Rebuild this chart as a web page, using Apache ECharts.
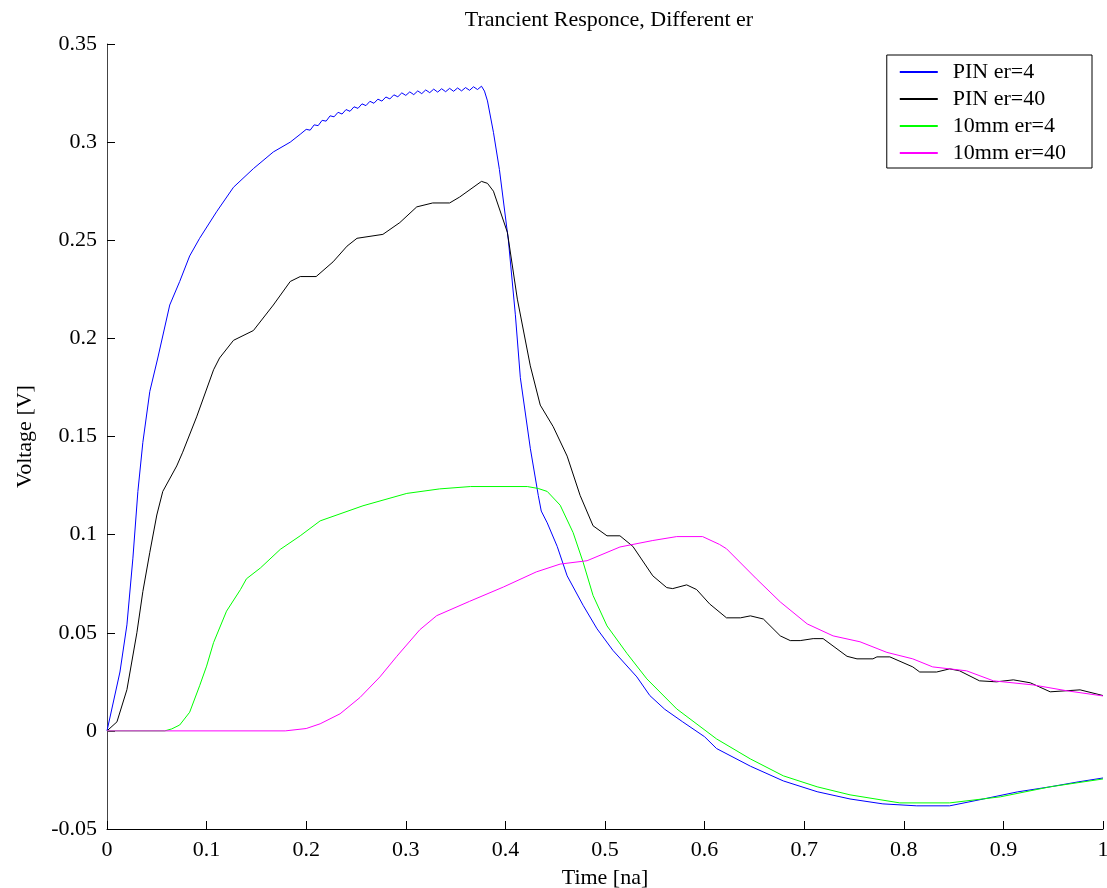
<!DOCTYPE html>
<html>
<head>
<meta charset="utf-8">
<script src="https://cdn.jsdelivr.net/npm/echarts@6/dist/echarts.min.js"></script>
<style>
  html, body { margin: 0; padding: 0; background: #fff; }
  #chart { width: 1107px; height: 888px; }
</style>
</head>
<body>
<div id="chart"></div>
<script>
// data: time [na] and voltage [V]
var pinEr4Time = [0, 0.013, 0.02, 0.026, 0.031, 0.036, 0.043, 0.051, 0.063, 0.073, 0.083, 0.093, 0.11, 0.127, 0.147, 0.167, 0.184, 0.194,
    0.200, 0.204, 0.208, 0.212, 0.216, 0.220, 0.224, 0.228, 0.232, 0.236, 0.240, 0.244, 0.248, 0.252, 0.256, 0.260,
    0.264, 0.268, 0.272, 0.276, 0.280, 0.284, 0.288, 0.292, 0.296, 0.300, 0.304, 0.308, 0.312, 0.316, 0.320, 0.324,
    0.328, 0.332, 0.336, 0.340, 0.344, 0.348, 0.352, 0.356, 0.360, 0.364, 0.368, 0.372, 0.376,
    0.379, 0.382, 0.388, 0.394, 0.403, 0.41, 0.415, 0.425, 0.433, 0.436, 0.442, 0.452, 0.462, 0.478, 0.492, 0.508,
    0.532, 0.545, 0.56, 0.578, 0.6, 0.612, 0.646, 0.679, 0.713, 0.746, 0.779, 0.813, 0.846, 0.88, 0.914, 0.947, 0.975, 1.0];
var pinEr4Volt = [0, 0.03, 0.054, 0.088, 0.122, 0.147, 0.173, 0.19, 0.217, 0.229, 0.242, 0.251, 0.2645, 0.277, 0.2865, 0.295, 0.3, 0.304,
    0.3065, 0.3061, 0.3088, 0.3084, 0.3111, 0.3107, 0.3134, 0.3129, 0.3152, 0.3143, 0.3166, 0.3157, 0.3180, 0.3172, 0.3195, 0.3186,
    0.3208, 0.3198, 0.3219, 0.3209, 0.3230, 0.3220, 0.3241, 0.3231, 0.3251, 0.3238, 0.3256, 0.3242, 0.3261, 0.3247, 0.3266, 0.3252,
    0.3270, 0.3255, 0.3272, 0.3257, 0.3274, 0.3259, 0.3276, 0.3261, 0.3278, 0.3264, 0.3282, 0.3268, 0.3285,
    0.326, 0.321, 0.305, 0.286, 0.25, 0.212, 0.18, 0.144, 0.12, 0.112, 0.106, 0.094, 0.079, 0.064, 0.052, 0.041,
    0.0275, 0.018, 0.011, 0.0046, -0.003, -0.009, -0.018, -0.0255, -0.031, -0.0347, -0.0372, -0.0382, -0.0382, -0.0347, -0.0311, -0.0285, -0.026, -0.024];

var pinEr40Time = [0, 0.01, 0.02, 0.03, 0.036, 0.043, 0.05, 0.056, 0.07, 0.076, 0.09, 0.107, 0.113, 0.127, 0.147, 0.167, 0.184, 0.194, 0.21,
    0.227, 0.241, 0.251, 0.277, 0.294, 0.311, 0.327, 0.344, 0.354, 0.376, 0.382, 0.388, 0.402, 0.412, 0.425, 0.435, 0.448, 0.462,
    0.475, 0.488, 0.502, 0.515, 0.528, 0.548, 0.562, 0.568, 0.582, 0.592, 0.605, 0.622, 0.636, 0.646, 0.659, 0.676, 0.686, 0.696,
    0.709, 0.719, 0.743, 0.753, 0.769, 0.773, 0.786, 0.809, 0.816, 0.833, 0.846, 0.856, 0.876, 0.893, 0.91, 0.927, 0.947, 0.977, 1.0];
var pinEr40Volt = [0, 0.0046, 0.021, 0.05, 0.071, 0.091, 0.11, 0.122, 0.135, 0.142, 0.16, 0.184, 0.19, 0.199, 0.204, 0.217, 0.229, 0.2315, 0.2315,
    0.239, 0.247, 0.251, 0.253, 0.259, 0.267, 0.269, 0.269, 0.272, 0.28, 0.279, 0.275, 0.254, 0.22, 0.186, 0.166, 0.155, 0.14,
    0.12, 0.1045, 0.0994, 0.0994, 0.094, 0.079, 0.073, 0.0725, 0.0744, 0.072, 0.0647, 0.0576, 0.0576, 0.0586, 0.057, 0.0484, 0.046, 0.046,
    0.047, 0.047, 0.038, 0.0367, 0.0367, 0.0377, 0.0377, 0.0326, 0.03, 0.03, 0.0316, 0.0306, 0.0255, 0.025, 0.026, 0.0245, 0.0199, 0.0209, 0.018];

var mm10Er4Time = [0, 0.058, 0.065, 0.073, 0.083, 0.093, 0.1, 0.107, 0.12, 0.134, 0.14, 0.154, 0.174, 0.194, 0.214, 0.257, 0.301, 0.334,
    0.365, 0.422, 0.433, 0.442, 0.455, 0.468, 0.478, 0.488, 0.502, 0.522, 0.542, 0.572, 0.612, 0.646, 0.679, 0.713, 0.746, 0.796,
    0.846, 0.897, 0.947, 1.0];
var mm10Er4Volt = [0, 0, 0.001, 0.003, 0.0095, 0.023, 0.033, 0.045, 0.061, 0.072, 0.0775, 0.083, 0.0925, 0.0994, 0.107, 0.1147, 0.121, 0.1233,
    0.1245, 0.1245, 0.1235, 0.122, 0.115, 0.101, 0.086, 0.069, 0.0535, 0.0395, 0.0265, 0.0112, -0.0041, -0.0143, -0.0229, -0.0285, -0.0326, -0.0367,
    -0.0367, -0.0336, -0.0285, -0.0245];

var mm10Er40Time = [0, 0.179, 0.18, 0.2, 0.214, 0.234, 0.254, 0.274, 0.291, 0.314, 0.331, 0.364, 0.398, 0.431, 0.455, 0.482, 0.515, 0.548,
    0.572, 0.598, 0.615, 0.622, 0.652, 0.676, 0.703, 0.729, 0.756, 0.783, 0.809, 0.829, 0.863, 0.89, 0.93, 0.964, 1.0];
var mm10Er40Volt = [0, 0, 0.001, 0.0012, 0.0036, 0.0087, 0.017, 0.0275, 0.038, 0.0515, 0.0587, 0.066, 0.0733, 0.081, 0.085, 0.0867, 0.0937, 0.097,
    0.099, 0.099, 0.095, 0.0928, 0.0775, 0.0657, 0.0545, 0.0484, 0.0454, 0.04, 0.0367, 0.0326, 0.0306, 0.0255, 0.0234, 0.0204, 0.0178];

var seriesNames = ['PIN er=4', 'PIN er=40', '10mm er=4', '10mm er=40'];
var seriesColors = ['#0000ff', '#000000', '#00ff00', '#ff00ff'];

function pairs(t, v) {
    var out = [];
    for (var i = 0; i < t.length; i++) {
        out.push([t[i], v[i]]);
    }
    return out;
}

var allData = [
    pairs(pinEr4Time, pinEr4Volt),
    pairs(pinEr40Time, pinEr40Volt),
    pairs(mm10Er4Time, mm10Er4Volt),
    pairs(mm10Er40Time, mm10Er40Volt)
];

var font = 'Liberation Serif';
var series = [];
for (var i = 0; i < seriesNames.length; i++) {
    series.push({
        name: seriesNames[i],
        type: 'line',
        symbol: 'none',
        smooth: false,
        color: seriesColors[i],
        lineStyle: { width: 1, color: seriesColors[i] },
        data: allData[i]
    });
}

var chart = echarts.init(document.getElementById('chart'));
chart.setOption({
    animation: false,
    backgroundColor: '#fff',
    title: {
        text: 'Trancient Responce, Different er',
        left: 604,
        top: 4,
        textAlign: 'center',
        textStyle: { fontFamily: font, fontSize: 22, fontWeight: 'normal', color: '#000' }
    },
    legend: {
        orient: 'vertical',
        right: 15,
        top: 55,
        itemWidth: 38,
        itemHeight: 10,
        itemGap: 5,
        padding: [6, 26, 4, 12],
        borderColor: '#000',
        borderWidth: 1,
        itemStyle: { opacity: 0 },
        textStyle: { fontFamily: font, fontSize: 22, color: '#000', padding: [0, 0, 0, 10] },
        data: seriesNames
    },
    grid: { left: 107, right: 4, top: 44, bottom: 59, outerBoundsMode: 'none' },
    xAxis: {
        type: 'value',
        min: 0,
        max: 1,
        interval: 0.1,
        name: 'Time [na]',
        nameLocation: 'middle',
        nameGap: 38,
        nameTextStyle: { fontFamily: font, fontSize: 22, color: '#000' },
        axisLine: { onZero: false, lineStyle: { color: '#000', width: 1 } },
        axisTick: { inside: true, length: 8, lineStyle: { color: '#000' } },
        axisLabel: { fontFamily: font, fontSize: 22, color: '#000', margin: 10 },
        splitLine: { show: false }
    },
    yAxis: {
        type: 'value',
        min: -0.05,
        max: 0.35,
        interval: 0.05,
        name: 'Voltage [V]',
        nameLocation: 'middle',
        nameRotate: 90,
        nameGap: 71,
        nameTextStyle: { fontFamily: font, fontSize: 22, color: '#000' },
        axisLine: { show: true, lineStyle: { color: '#444', width: 1 } },
        axisTick: { show: true, inside: true, length: 8, lineStyle: { color: '#000' } },
        axisLabel: { fontFamily: font, fontSize: 22, color: '#000', margin: 10 },
        splitLine: { show: false }
    },
    series: series
});
</script>
</body>
</html>
